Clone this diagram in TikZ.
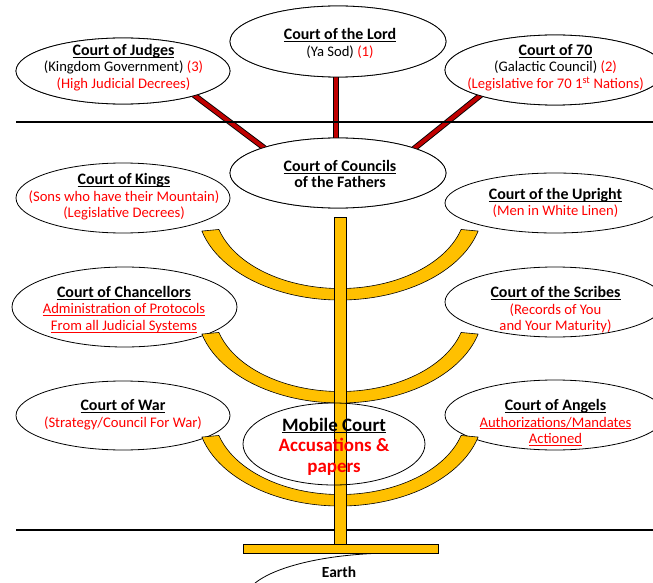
\documentclass[tikz,border=0pt]{standalone}
\usepackage{fontspec}
\setmainfont{Carlito}
\usetikzlibrary{shapes.geometric,calc}
\definecolor{barred}{HTML}{C00000}
\definecolor{gold}{HTML}{FFC000}
\definecolor{txtred}{HTML}{FF0000}
\newcommand\ulx[1]{\underline{\smash{#1}}\vphantom{#1}}
\newcommand\ttl[1]{{\fontsize{16}{16.5}\selectfont\bfseries\ulx{#1}}}
\newcommand\rd[1]{\textcolor{txtred}{#1}}
\begin{document}
\begin{tikzpicture}[x=1bp,y=-1bp,
  court/.style={ellipse, draw=black, line width=0.8bp, fill=white, inner sep=0pt},
  lbl/.style={align=center, font=\fontsize{14.7}{16.5}\selectfont, inner sep=0pt},
  big/.style={align=center, font=\fontsize{19}{20.5}\selectfont\bfseries, inner sep=0pt},
  redbar/.style={draw=black, line width=0.9bp, double=barred, double distance=4bp, shorten <=-6bp, shorten >=-6bp},
  sepline/.style={line width=1.8bp},
  goldshape/.style={fill=gold, draw=black, line width=0.6bp},
]
\useasboundingbox (0,0) rectangle (653,583);

% ellipses of the top row and the central council
\node[court, minimum width=214bp, minimum height=66bp] (judges) at (123,71) {};
\node[court, minimum width=216bp, minimum height=71bp] (lord) at (338,41.5) {};
\node[court, minimum width=220bp, minimum height=70bp] (seventy) at (555,70) {};
\node[court, minimum width=216bp, minimum height=70bp] (councils) at (338,173) {};

% red bars
\path (judges.-19) coordinate (jb) (councils.161) coordinate (cb1)
      (seventy.199) coordinate (sb) (councils.18) coordinate (cb2)
      (lord.south) coordinate (lb) (councils.north) coordinate (cb3);
\draw[redbar] (jb) -- (cb1);
\draw[redbar] (sb) -- (cb2);
\draw[redbar] ([xshift=-2bp]lb) -- ([xshift=-2bp]cb3);

% redraw the ellipses over the bar ends
\node[court, minimum width=214bp, minimum height=66bp] at (judges) {};
\node[court, minimum width=216bp, minimum height=71bp] at (lord) {};
\node[court, minimum width=220bp, minimum height=70bp] at (seventy) {};
\node[court, minimum width=216bp, minimum height=70bp] at (councils) {};

\node[court, minimum width=214bp, minimum height=70bp] (kings) at (123,198) {};
\node[court, minimum width=220bp, minimum height=60bp] (upright) at (555,203) {};
\node[court, minimum width=225bp, minimum height=80bp] (chanc) at (124.5,307) {};
\node[court, minimum width=220bp, minimum height=70bp] (scribes) at (555,302) {};
\node[court, minimum width=214bp, minimum height=69bp] (war) at (123,415.5) {};
\node[court, minimum width=220bp, minimum height=70bp] (angels) at (555,415) {};

% separator lines
\coordinate (t1) at (16,122); \coordinate (t2) at (653,122);
\coordinate (b1) at (16,530); \coordinate (b2) at (653,530);
\draw[sepline] (t1) -- (t2);
\draw[sepline] (b1) -- (b2);

% menorah arcs
\foreach \cy in {207,310,413}{
  \draw[goldshape, shift={(340,\cy)}] (165:143 and 93)
    arc[start angle=165, end angle=15, x radius=143, y radius=93]
    -- (16:126 and 81.5)
    arc[start angle=16, end angle=164, x radius=126, y radius=81.5] -- cycle;
}
% earth curve
\draw[line width=0.8bp] (245,600) arc[start angle=180, end angle=270, x radius=150, y radius=47];
% stem and base
\draw[goldshape] (334.5,217) rectangle (346.5,546);
\draw[goldshape] (243,544) rectangle (438,553);

% mobile court ellipse (transparent)
\node[court, fill=none, minimum width=182bp, minimum height=82bp] (mobile) at (334,444) {};

% texts
\node[lbl] (judgesT) at (123.5,67.5) {\ttl{Court of Judges}\\(Kingdom Government) \rd{(3)}\\\rd{(High Judicial Decrees)}};
\node[lbl] (lordT) at (340,43.5) {\ttl{Court of the Lord}\\(Ya Sod) \rd{(1)}};
\node[lbl] (seventyT) at (555.5,67.5) {\ttl{Court of 70}\\(Galactic Council) \rd{(2)}\\\rd{(Legislative for 70 1\textsuperscript{st} Nations)}};
\node[lbl] (councilsT) at (340,174) {\ttl{Court of Councils}\\{\fontsize{16}{16.5}\selectfont\bfseries of the Fathers}};
\node[lbl] (kingsT) at (124,197) {\ttl{Court of Kings}\\\rd{(Sons who have their Mountain)}\\\rd{(Legislative Decrees)}};
\node[lbl] (uprightT) at (555.5,203) {\ttl{Court of the Upright}\\\rd{(Men in White Linen)}};
\node[lbl] (chancT) at (124,309.5) {\ttl{Court of Chancellors}\\\rd{\ulx{Administration of Protocols}}\\\rd{\ulx{From all Judicial Systems}}};
\node[lbl] (scribesT) at (555.5,310) {\ttl{Court of the Scribes}\\\rd{(Records of You}\\\rd{and Your Maturity)}};
\node[lbl] (warT) at (123,414.5) {\ttl{Court of War}\\\rd{(Strategy/Council For War)}};
\node[lbl] (angelsT) at (555.5,422.5) {\ttl{Court of Angels}\\\rd{\ulx{Authorizations/Mandates}}\\\rd{\ulx{Actioned}}};
\node[big] (mobileT) at (334,446.5) {\ulx{Mobile Court}\\\rd{Accusations \&}\\\rd{papers}};
\node[lbl, font=\fontsize{15.5}{16.5}\selectfont\bfseries] (earthT) at (339,572) {Earth};
\end{tikzpicture}
\end{document}
